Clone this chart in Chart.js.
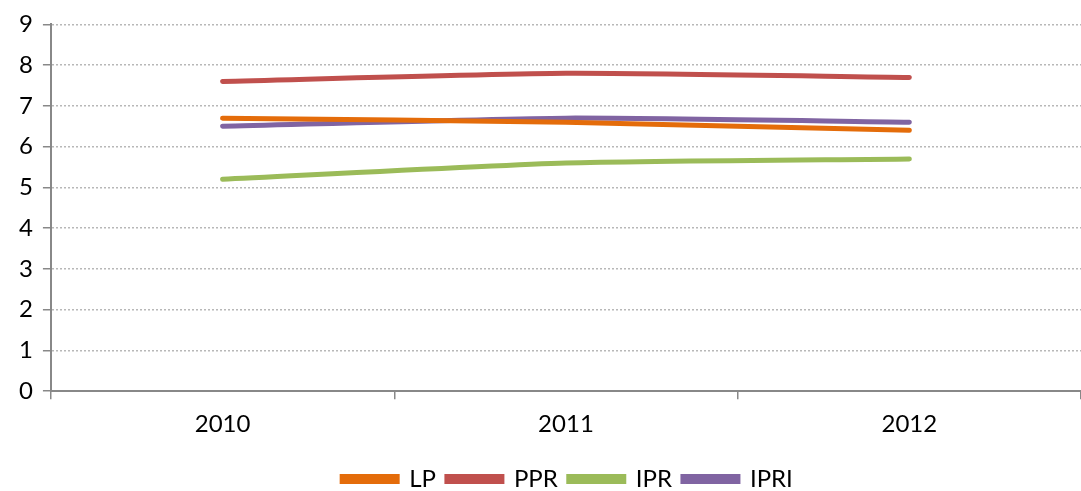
<!DOCTYPE html>
<html>
<head>
<meta charset="utf-8">
<script src="https://cdn.jsdelivr.net/npm/chart.js@4"></script>
<style>
  html, body { margin: 0; padding: 0; background: #fff; }
  #wrap { width: 1081px; height: 491px; position: relative; }
</style>
</head>
<body>
<div id="wrap"><canvas id="c" width="1081" height="491"></canvas></div>
<script>
const categories = ['2010', '2011', '2012'];
const LP = [6.7, 6.6, 6.4];
const PPR = [7.6, 7.8, 7.7];
const IPR = [5.2, 5.6, 5.7];
const IPRI = [6.5, 6.7, 6.6];
const yTicks = [0, 1, 2, 3, 4, 5, 6, 7, 8, 9];

const FONT = 'Lato, "Liberation Sans", sans-serif';
function ds(label, data, color) {
  return {
    label, data,
    borderColor: color, backgroundColor: color,
    borderWidth: 5, pointRadius: 0, tension: 0.2,
    borderCapStyle: 'round', fill: false
  };
}
const legendShift = {
  id: 'legendShift',
  afterLayout(chart) {
    if (chart.legend) { chart.legend.left += 19; chart.legend.right += 19; }
  }
};
new Chart(document.getElementById('c'), {
  type: 'line',
  data: {
    labels: categories,
    datasets: [
      ds('LP', LP, '#E46C0A'),
      ds('PPR', PPR, '#C0504D'),
      ds('IPR', IPR, '#9BBB59'),
      ds('IPRI', IPRI, '#8064A2')
    ]
  },
  plugins: [legendShift],
  options: {
    responsive: false,
    animation: false,
    layout: { padding: { left: 9, right: -7, top: 7, bottom: -10 } },
    plugins: {
      tooltip: { enabled: false },
      legend: {
        position: 'bottom',
        labels: {
          boxWidth: 55, boxHeight: 5, padding: 11,
          color: '#000', font: { family: FONT, size: 24 }
        }
      }
    },
    scales: {
      x: {
        offset: true,
        afterFit: (s) => { s.height += 6; },
        grid: { display: true, drawOnChartArea: false, drawTicks: true, tickLength: 8, color: '#888', lineWidth: 1.5, offset: true },
        border: { display: true, color: '#888', width: 2 },
        ticks: { color: '#000', font: { family: FONT, size: 24 }, padding: 11 }
      },
      y: {
        min: 0, max: 9,
        afterBuildTicks: (axis) => { axis.ticks = yTicks.map(v => ({ value: v })); },
        grid: { color: '#b8b8b8', lineWidth: 1.5, tickLength: 8, tickColor: '#888', tickWidth: 1.5 },
        border: { display: true, color: '#888', width: 2, dash: [2, 2] },
        ticks: { color: '#000', font: { family: FONT, size: 24 }, padding: 10 }
      }
    }
  }
});
</script>
</body>
</html>
